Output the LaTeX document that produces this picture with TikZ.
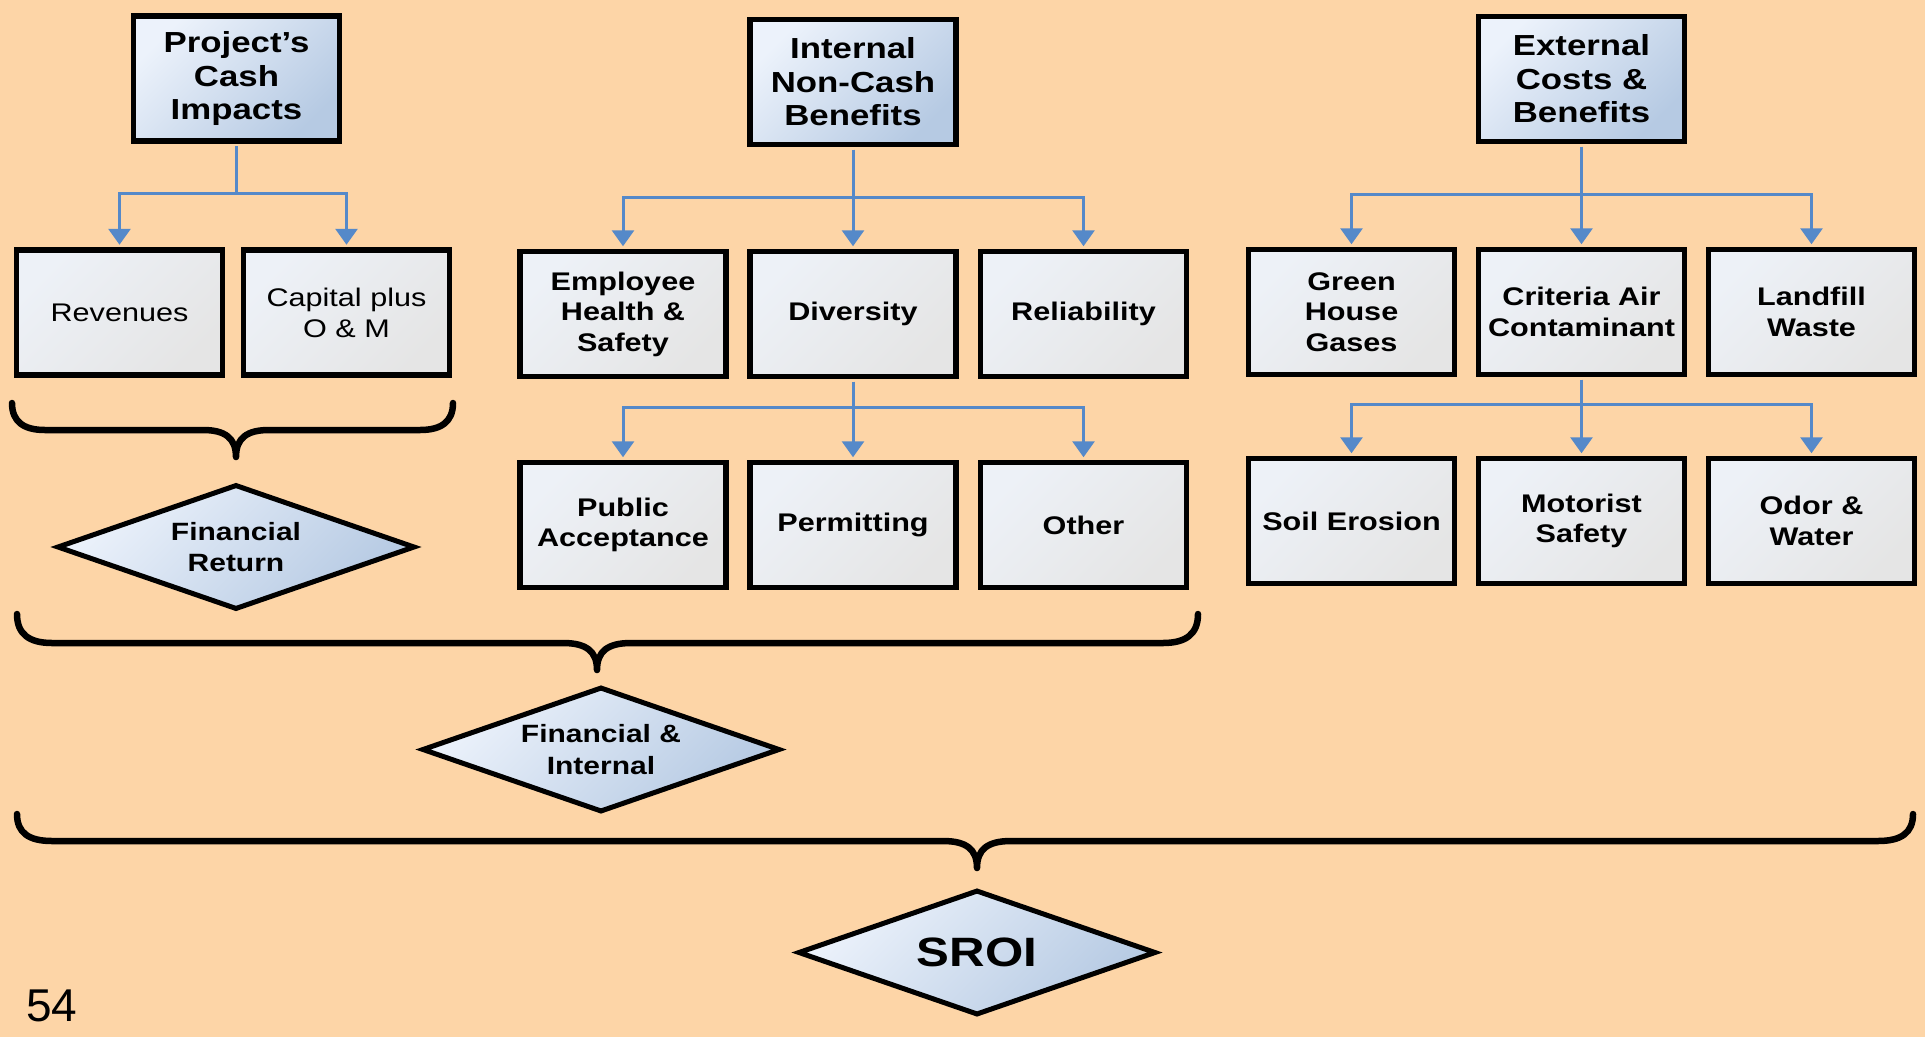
\documentclass[tikz,border=0pt]{standalone}
\usepackage{fontspec}
\setmainfont{Liberation Sans}
\newfontfamily\diagfont[FakeStretch=1.2]{Liberation Sans}
\usetikzlibrary{shapes.geometric,arrows.meta}

\definecolor{peach}{RGB}{253,213,167}
\definecolor{grayhi}{RGB}{237,241,247}
\definecolor{graylo}{RGB}{229,229,229}
\definecolor{bluehi}{RGB}{236,242,251}
\definecolor{bluelo}{RGB}{182,202,227}
\definecolor{linkblue}{RGB}{85,137,201}

\tikzset{
  cellbox/.style={draw=black, line width=5.5pt, minimum width=206pt, minimum height=125pt,
    inner sep=2pt, align=center, shading=axis, shading angle=45},
  catbox/.style={cellbox, top color=grayhi, bottom color=graylo, shading angle=45,
    font={\diagfont\bfseries\fontsize{25.5}{30.5}\selectfont}},
  plainbox/.style={catbox, font={\diagfont\fontsize{25.5}{31}\selectfont}},
  headbox/.style={cellbox, top color=bluehi, bottom color=bluelo, shading angle=45,
    font={\diagfont\bfseries\fontsize{29}{33.5}\selectfont}},
  result/.style={diamond, draw=black, line width=5pt, aspect=2.9, minimum width=358pt,
    minimum height=125pt, inner sep=0pt, align=center, top color=bluehi, bottom color=bluelo,
    shading angle=45, font={\diagfont\bfseries\fontsize{25}{31.5}\selectfont}},
  link/.style={draw=linkblue, line width=3pt, shorten <=2.5pt, shorten >=2.5pt,
    -{Triangle[width=22pt,length=16pt]}},
  sumbrace/.style={line width=6.5pt, line cap=round, line join=round},
}

\begin{document}
\begin{tikzpicture}[x=1pt,y=-1pt]
  \useasboundingbox (0,0) rectangle (1925,1037);
  \fill[peach] (0,0) rectangle (1925,1037);

  % cash column
  \node[headbox] (proj) at (236.5,78.5) {Project’s\\Cash\\Impacts};
  \node[plainbox] (rev) at (119.5,312.5) {Revenues};
  \node[plainbox] (cap) at (346.5,312.5) {Capital plus\\O \& M};
  \draw[link] (proj.south) -- ++(0,50) -| (rev.north);
  \draw[link] (proj.south) -- ++(0,50) -| (cap.north);

  % internal column
  \node[headbox] (intl) at (853,82) {Internal\\Non-Cash\\Benefits};
  \node[catbox] (emp) at (623,314) {Employee\\Health \&\\Safety};
  \node[catbox] (div) at (853,314) {Diversity};
  \node[catbox] (rel) at (1083.5,314) {Reliability};
  \node[catbox] (pub) at (623,525) {Public\\Acceptance};
  \node[catbox] (perm) at (853,525) {Permitting};
  \node[catbox] (oth) at (1083.5,525) {Other};
  \draw[link] (intl.south) -- ++(0,50) -| (emp.north);
  \draw[link] (intl.south) -- (div.north);
  \draw[link] (intl.south) -- ++(0,50) -| (rel.north);
  \draw[link] (div.south) -- ++(0,28) -| (pub.north);
  \draw[link] (div.south) -- (perm.north);
  \draw[link] (div.south) -- ++(0,28) -| (oth.north);

  % external column
  \node[headbox] (ext) at (1581.5,79) {External\\Costs \&\\Benefits};
  \node[catbox] (ghg) at (1351.5,312) {Green\\House\\Gases};
  \node[catbox] (cac) at (1581.5,312) {Criteria Air\\Contaminant};
  \node[catbox] (land) at (1811.5,312) {Landfill\\Waste};
  \node[catbox] (soil) at (1351.5,521) {Soil Erosion};
  \node[catbox] (mot) at (1581.5,521) {Motorist\\Safety};
  \node[catbox] (odor) at (1811.5,521) {Odor \&\\Water};
  \draw[link] (ext.south) -- ++(0,50) -| (ghg.north);
  \draw[link] (ext.south) -- (cac.north);
  \draw[link] (ext.south) -- ++(0,50) -| (land.north);
  \draw[link] (cac.south) -- ++(0,27) -| (soil.north);
  \draw[link] (cac.south) -- (mot.north);
  \draw[link] (cac.south) -- ++(0,27) -| (odor.north);

  % braces and results
  \draw[sumbrace] (12,403) .. controls (12,422) and (24,430) .. (45,430) -- (203,430)
    .. controls (225,430) and (236,438) .. (236,457)
    .. controls (236,438) and (247,430) .. (269,430) -- (420,430)
    .. controls (441,430) and (453,422) .. (453,403);
  \node[result] (finret) at (236,547) {Financial\\Return};

  \draw[sumbrace] (17,614) .. controls (17,634) and (29,643) .. (52,643) -- (563,643)
    .. controls (586,643) and (597,651) .. (597,670)
    .. controls (597,651) and (608,643) .. (631,643) -- (1163,643)
    .. controls (1186,643) and (1198,634) .. (1198,614);
  \node[result] (finint) at (601,749.5) {Financial \&\\Internal};

  \draw[sumbrace] (17,814) .. controls (17,833) and (29,841) .. (52,841) -- (943,841)
    .. controls (966,841) and (977,849) .. (977,868)
    .. controls (977,849) and (988,841) .. (1011,841) -- (1878,841)
    .. controls (1901,841) and (1913,833) .. (1913,814);
  \node[result, font={\diagfont\bfseries\fontsize{41}{45}\selectfont}] (sroi) at (977,952.5) {SROI};

  \node[font={\fontsize{46}{50}\selectfont}] (pageno) at (52,1006) {54};
\end{tikzpicture}
\end{document}
